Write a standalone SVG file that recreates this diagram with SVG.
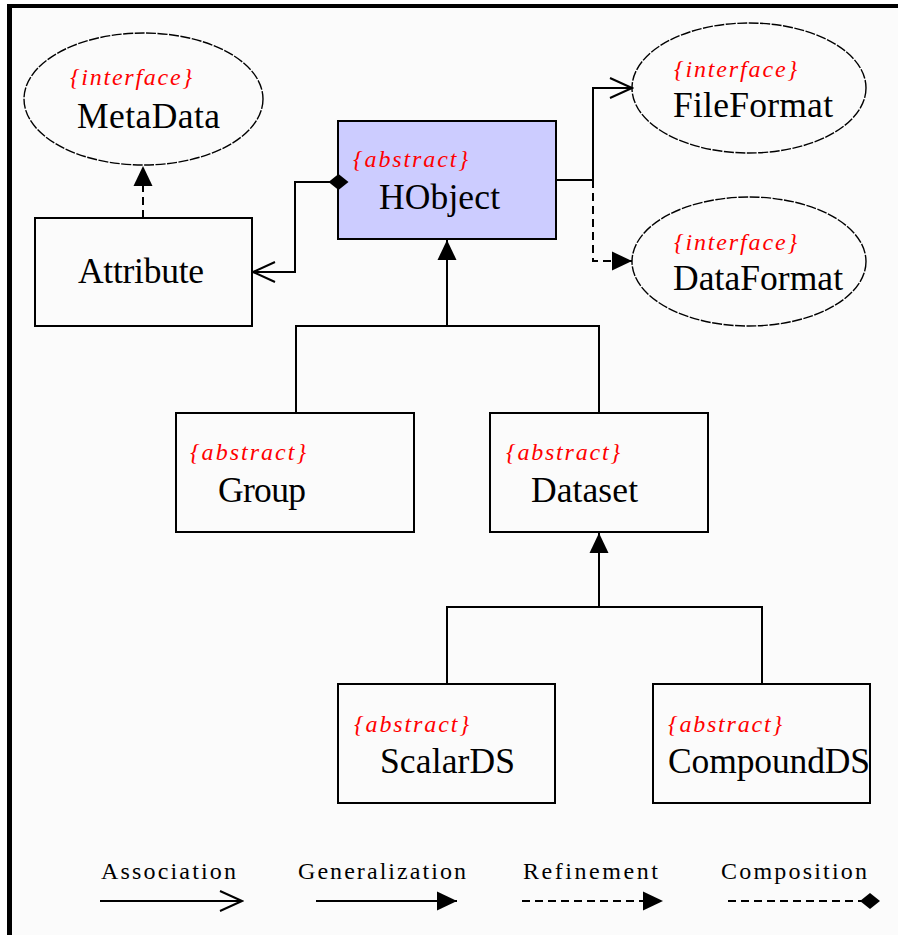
<svg xmlns="http://www.w3.org/2000/svg" width="898" height="935" viewBox="0 0 898 935">
  <style>
    .box { fill: none; stroke: #000; stroke-width: 2; }
    .oval { fill: none; stroke: #000; stroke-width: 1.4; stroke-dasharray: 10 1.5; }
    .name { font-family: "Liberation Serif", "Times New Roman", serif; font-size: 35.5px; fill: #000; }
    .tag { font-family: "Liberation Serif", "Times New Roman", serif; font-style: italic; font-size: 24px; fill: #ff0000; }
    .legend { font-family: "Liberation Serif", "Times New Roman", serif; font-size: 24px; fill: #000; }
    .line { fill: none; stroke: #000; stroke-width: 2; }
    .dash { stroke-dasharray: 8 5; }
  </style>
  <defs>
    <marker id="open" viewBox="-24 -12 26 24" refX="0" refY="0" markerWidth="26" markerHeight="24" markerUnits="userSpaceOnUse" orient="auto">
      <path d="M-22,-10 L0,0 L-22,10" fill="none" stroke="#000" stroke-width="2"/>
    </marker>
    <marker id="tri" viewBox="-22 -12 24 24" refX="0" refY="0" markerWidth="24" markerHeight="24" markerUnits="userSpaceOnUse" orient="auto">
      <path d="M-20,-9.5 L0,0 L-20,9.5 Z" fill="#000"/>
    </marker>
    <marker id="diamond" viewBox="-12 -10 24 20" refX="0" refY="0" markerWidth="24" markerHeight="20" markerUnits="userSpaceOnUse" orient="auto">
      <path d="M-10,0 L0,-8 L10,0 L0,8 Z" fill="#000"/>
    </marker>
  </defs>

  <!-- page and frame -->
  <rect x="0" y="0" width="898" height="935" fill="#ffffff"/>
  <rect x="7" y="4" width="891" height="931" fill="#fbfbfb"/>
  <rect x="7" y="4" width="891" height="4" fill="#000"/>
  <rect x="7" y="4" width="5" height="931" fill="#000"/>

  <!-- interfaces -->
  <g id="MetaData">
    <ellipse class="oval" cx="143.5" cy="99" rx="119.5" ry="66"/>
    <text class="tag" x="70" y="85" textLength="122">{interface}</text>
    <text class="name" x="77" y="128" textLength="143">MetaData</text>
  </g>
  <g id="FileFormat">
    <ellipse class="oval" cx="749" cy="88" rx="117" ry="65"/>
    <text class="tag" x="674" y="77" textLength="123">{interface}</text>
    <text class="name" x="673" y="117" textLength="160">FileFormat</text>
  </g>
  <g id="DataFormat">
    <ellipse class="oval" cx="749" cy="261.5" rx="117" ry="64.5"/>
    <text class="tag" x="674" y="250" textLength="123">{interface}</text>
    <text class="name" x="673" y="290" textLength="170">DataFormat</text>
  </g>

  <!-- classes -->
  <g id="Attribute">
    <rect class="box" x="35" y="218" width="217" height="108"/>
    <text class="name" x="78" y="283" textLength="126">Attribute</text>
  </g>
  <g id="HObject">
    <rect x="338" y="121" width="218" height="118" fill="#ccccff" stroke="#000" stroke-width="2"/>
    <text class="tag" x="353" y="167" textLength="115">{abstract}</text>
    <text class="name" x="379" y="209" textLength="121">HObject</text>
  </g>
  <g id="Group">
    <rect class="box" x="176" y="413" width="238" height="119"/>
    <text class="tag" x="190" y="460" textLength="116">{abstract}</text>
    <text class="name" x="218" y="502" textLength="88">Group</text>
  </g>
  <g id="Dataset">
    <rect class="box" x="490" y="413" width="218" height="119"/>
    <text class="tag" x="506" y="460" textLength="114">{abstract}</text>
    <text class="name" x="531" y="502" textLength="107">Dataset</text>
  </g>
  <g id="ScalarDS">
    <rect class="box" x="338" y="684" width="217" height="119"/>
    <text class="tag" x="354" y="732" textLength="115">{abstract}</text>
    <text class="name" x="380" y="773" textLength="135">ScalarDS</text>
  </g>
  <g id="CompoundDS">
    <rect class="box" x="653" y="684" width="217" height="119"/>
    <text class="tag" x="668" y="732" textLength="114">{abstract}</text>
    <text class="name" x="668" y="773" textLength="202">CompoundDS</text>
  </g>

  <!-- connectors, drawn over the nodes so end symbols stay visible -->
  <g id="connectors">
    <path class="line dash" d="M143,218 V166" marker-end="url(#tri)"/>
    <path class="line" d="M338.5,182 H295 V272 H253" marker-start="url(#diamond)" marker-end="url(#open)"/>
    <path class="line" d="M556,180 H593 V88 H632" marker-end="url(#open)"/>
    <path class="line dash" d="M593,180 V261 H632" marker-end="url(#tri)"/>
    <path class="line" d="M296,413 V326 H599 V413"/>
    <path class="line" d="M447,326 V240" marker-end="url(#tri)"/>
    <path class="line" d="M447,683 V607 H762 V683"/>
    <path class="line" d="M599,607 V533" marker-end="url(#tri)"/>
  </g>

  <!-- legend -->
  <g id="legend">
    <text class="legend" x="101" y="879" textLength="135">Association</text>
    <path class="line" d="M100,901 H242" marker-end="url(#open)"/>
    <text class="legend" x="298" y="879" textLength="168">Generalization</text>
    <path class="line" d="M316,901 H457" marker-end="url(#tri)"/>
    <text class="legend" x="523" y="879" textLength="135">Refinement</text>
    <path class="line dash" d="M522,901 H663" marker-end="url(#tri)"/>
    <text class="legend" x="721" y="879" textLength="146">Composition</text>
    <path class="line dash" d="M728,901 H870" marker-end="url(#diamond)"/>
  </g>
</svg>
